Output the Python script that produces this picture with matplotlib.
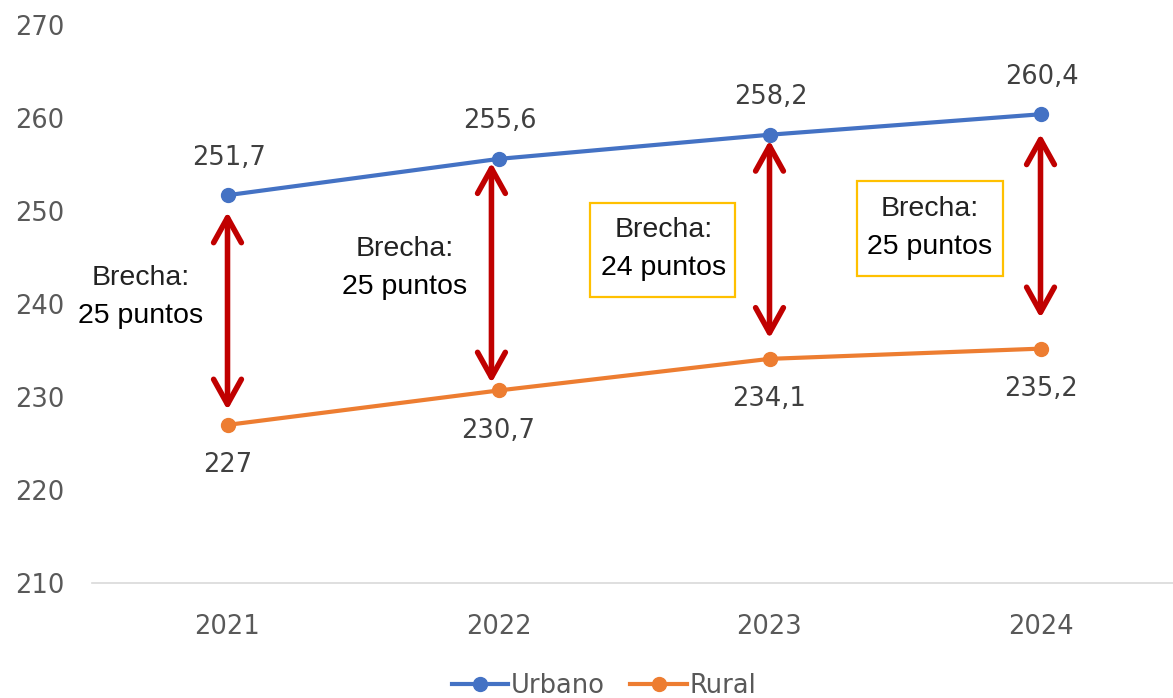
import matplotlib.pyplot as plt
from matplotlib.patches import Rectangle

# --- Data ---
years = ["2021", "2022", "2023", "2024"]
urbano = [251.7, 255.6, 258.2, 260.4]
rural = [227.0, 230.7, 234.1, 235.2]
urbano_labels = ["251,7", "255,6", "258,2", "260,4"]
rural_labels = ["227", "230,7", "234,1", "235,2"]
gap_texts = ["25 puntos", "25 puntos", "24 puntos", "25 puntos"]

# arrow ends (data units) and small x shifts (category units)
arrow_tops = [249.9, 255.2, 257.6, 258.3]
arrow_bottoms = [228.6, 231.5, 236.3, 238.5]
arrow_dx = [0.0, -0.026, 0.0, 0.0]

BLUE = "#4472C4"
ORANGE = "#ED7D31"
DARKRED = "#C00000"
GOLD = "#FFC000"
GRAY = "#595959"
LABEL = "#404040"

fig = plt.figure(figsize=(11.73, 6.98), dpi=100)
W, H = 1173, 698
ax = fig.add_axes([92 / W, 1 - 583 / H, (1176 - 92) / W, (583 - 25) / H])

x = list(range(len(years)))
ax.plot(x, urbano, color=BLUE, lw=3, marker="o", ms=10, label="Urbano", zorder=3)
ax.plot(x, rural, color=ORANGE, lw=3, marker="o", ms=10, label="Rural", zorder=3)

for i in x:
    ax.annotate(urbano_labels[i], (i, urbano[i]), xytext=(1, 27), textcoords="offset points",
                ha="center", va="center", fontsize=18.5, color=LABEL)
    ax.annotate(rural_labels[i], (i, rural[i]), xytext=(0, -29), textcoords="offset points",
                ha="center", va="center", fontsize=18.5, color=LABEL)
    ax.annotate("", xy=(i + arrow_dx[i], arrow_tops[i]), xytext=(i + arrow_dx[i], arrow_bottoms[i]),
                arrowprops=dict(arrowstyle="<->,head_length=0.9,head_width=0.5", color=DARKRED,
                                lw=4, mutation_scale=20, shrinkA=0, shrinkB=0), zorder=4)

ax.set_xlim(-0.5, 3.5)
ax.set_ylim(210, 270)
ax.set_yticks(range(210, 271, 10))
ax.set_xticks(x)
ax.set_xticklabels(years)
ax.tick_params(length=0, labelsize=18.5, labelcolor=GRAY)
ax.tick_params(axis="x", pad=22)
ax.tick_params(axis="y", pad=55)
for lab in ax.get_yticklabels():
    lab.set_horizontalalignment("left")
for s in ["top", "right", "left"]:
    ax.spines[s].set_visible(False)
ax.spines["bottom"].set_color("#D9D9D9")
ax.spines["bottom"].set_linewidth(1.2)

# gap annotations (pixel positions of text centres)
text_pos = [(141, 297), (405, 268), (664, 249), (930, 228)]
tfont = dict(family=["Liberation Sans", "DejaVu Sans"], ha="center", va="center")
for (px, py), t in zip(text_pos, gap_texts):
    fig.text(px / W, 1 - (py - 19) / H, "Brecha:", fontsize=20.5, color="#222222", **tfont)
    fig.text(px / W, 1 - (py + 19) / H, t, fontsize=20.5, color="black", **tfont)

boxes = [(590, 203, 145, 94), (857, 181, 146, 95)]
for bx, by, bw, bh in boxes:
    fig.patches.append(Rectangle((bx / W, 1 - (by + bh) / H), bw / W, bh / H,
                                 transform=fig.transFigure, fill=False,
                                 edgecolor=GOLD, lw=1.6, zorder=5))

leg = fig.legend(loc="center", bbox_to_anchor=(604 / W, 1 - 686 / H), ncol=2, frameon=False,
                 fontsize=18.5, handlelength=2.2, columnspacing=1.0, handletextpad=0.1)
for t in leg.get_texts():
    t.set_color(GRAY)

fig.savefig("out.png", dpi=100)
